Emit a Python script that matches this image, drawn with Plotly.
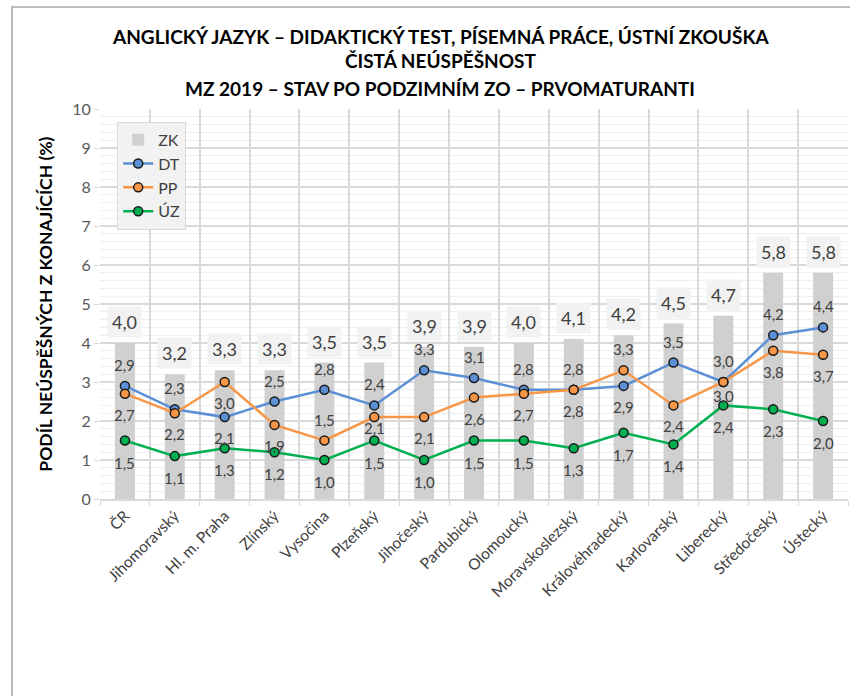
import plotly.graph_objects as go

# Kraje a podíly neúspěšných (%)
regions = ["ČR", "Jihomoravský", "Hl. m. Praha", "Zlínský", "Vysočina", "Plzeňský",
           "Jihočeský", "Pardubický", "Olomoucký", "Moravskoslezský", "Královéhradecký",
           "Karlovarský", "Liberecký", "Středočeský", "Ústecký"]
zk = [4.0, 3.2, 3.3, 3.3, 3.5, 3.5, 3.9, 3.9, 4.0, 4.1, 4.2, 4.5, 4.7, 5.8, 5.8]
dt = [2.9, 2.3, 2.1, 2.5, 2.8, 2.4, 3.3, 3.1, 2.8, 2.8, 2.9, 3.5, 3.0, 4.2, 4.4]
pp = [2.7, 2.2, 3.0, 1.9, 1.5, 2.1, 2.1, 2.6, 2.7, 2.8, 3.3, 2.4, 3.0, 3.8, 3.7]
uz = [1.5, 1.1, 1.3, 1.2, 1.0, 1.5, 1.0, 1.5, 1.5, 1.3, 1.7, 1.4, 2.4, 2.3, 2.0]
y_ticks = list(range(0, 11))

# Posun popisků v pixelech: kladný = nad bodem, záporný = pod bodem
dt_shift = [21, 21, -21, 21, 21, 21, 21, 21, 21, 21, -21, 21, 21, 21, 21]
pp_shift = [-21, -21, -21, -21, 21, -11, -21, -21, -21, -21, 21, -21, -14, -21, -21]
uz_shift = [-22] * len(regions)

FONT = "Lato, 'Open Sans', sans-serif"
LABEL_COLOR = "#404040"


def fmt(v):
    return f"{v:.1f}".replace(".", ",")


fig = go.Figure()

fig.add_trace(go.Bar(
    x=regions, y=zk, name="ZK", marker=dict(color="#d0d0d0", line=dict(width=0)),
))

line_series = [
    ("DT", dt, "#5b8fd6"),
    ("PP", pp, "#f79646"),
    ("ÚZ", uz, "#00b050"),
]
for name, vals, color in line_series:
    fig.add_trace(go.Scatter(
        x=regions, y=vals, name=name, mode="lines+markers",
        line=dict(color=color, width=2.5),
        marker=dict(size=9, color=color, line=dict(color="#1a1a1a", width=1.5)),
    ))

annotations = []

# Popisky sloupců ZK v šedých rámečcích
for r, v in zip(regions, zk):
    annotations.append(dict(
        x=r, y=v, xref="x", yref="y", text=fmt(v), showarrow=False,
        yshift=21, yanchor="middle",
        font=dict(family=FONT, size=18, color=LABEL_COLOR),
        bgcolor="#f2f2f2", borderpad=4,
    ))

# Popisky bodů čar
for vals, shifts in ((dt, dt_shift), (pp, pp_shift), (uz, uz_shift)):
    for r, v, s in zip(regions, vals, shifts):
        annotations.append(dict(
            x=r, y=v, xref="x", yref="y", text=fmt(v), showarrow=False,
            yshift=s, yanchor="middle",
            font=dict(family=FONT, size=15, color=LABEL_COLOR),
        ))

# Nadpis ve třech řádcích
title_lines = [
    ("ANGLICKÝ JAZYK – DIDAKTICKÝ TEST, PÍSEMNÁ PRÁCE, ÚSTNÍ ZKOUŠKA", 1.185),
    ("ČISTÁ NEÚSPĚŠNOST", 1.125),
    ("MZ 2019 – STAV PO PODZIMNÍM ZO – PRVOMATURANTI", 1.053),
]
for txt, yp in title_lines:
    annotations.append(dict(
        x=0.455, y=yp, xref="paper", yref="paper", text=f"<b>{txt}</b>",
        showarrow=False, xanchor="center", yanchor="middle",
        font=dict(family=FONT, size=19, color="#000000"),
    ))

# Název osy Y
annotations.append(dict(
    x=-0.074, y=0.5, xref="paper", yref="paper",
    text="<b>PODÍL NEÚSPĚŠNÝCH Z KONAJÍCÍCH (%)</b>", textangle=-90,
    showarrow=False, xanchor="center", yanchor="middle",
    font=dict(family=FONT, size=17.5, color="#000000"),
))

fig.update_layout(
    width=850, height=696,
    margin=dict(l=100, r=2, t=109, b=197, autoexpand=False),
    paper_bgcolor="white", plot_bgcolor="white",
    font=dict(family=FONT, color=LABEL_COLOR),
    bargap=0.6,
    showlegend=True,
    hovermode=False,
    legend=dict(
        x=0.023, y=0.967, xanchor="left", yanchor="top",
        bgcolor="#f2f2f2", bordercolor="#d9d9d9", borderwidth=1,
        font=dict(family=FONT, size=16, color=LABEL_COLOR),
        tracegroupgap=0, itemwidth=30,
    ),
    annotations=annotations,
    shapes=[dict(
        type="rect", xref="paper", yref="paper",
        x0=-0.1176, y0=-0.8, x1=1.2, y1=1.2615,
        line=dict(color="#a6a6a6", width=1.5), fillcolor="rgba(0,0,0,0)",
        layer="below",
    )],
)

fig.update_xaxes(
    type="category", tickangle=-45, tickson="boundaries",
    range=[-0.5, len(regions) - 0.5],
    ticks="outside", ticklen=5, tickcolor="#d9d9d9",
    showgrid=True, gridcolor="#d9d9d9", gridwidth=1.5,
    showline=True, linecolor="#d9d9d9", linewidth=1.5,
    automargin=False,
    tickfont=dict(family=FONT, size=15.5, color=LABEL_COLOR),
)
fig.update_yaxes(
    range=[0, 10], tickvals=y_ticks, ticks="outside", ticklen=5,
    tickcolor="#d9d9d9", showgrid=True, gridcolor="#d9d9d9", gridwidth=1.5,
    zeroline=False, showline=False, automargin=False,
    minor=dict(dtick=0.2, showgrid=True, gridcolor="#efefef", gridwidth=1),
    tickfont=dict(family=FONT, size=16, color="#595959"),
)

fig.write_html("out.html")
